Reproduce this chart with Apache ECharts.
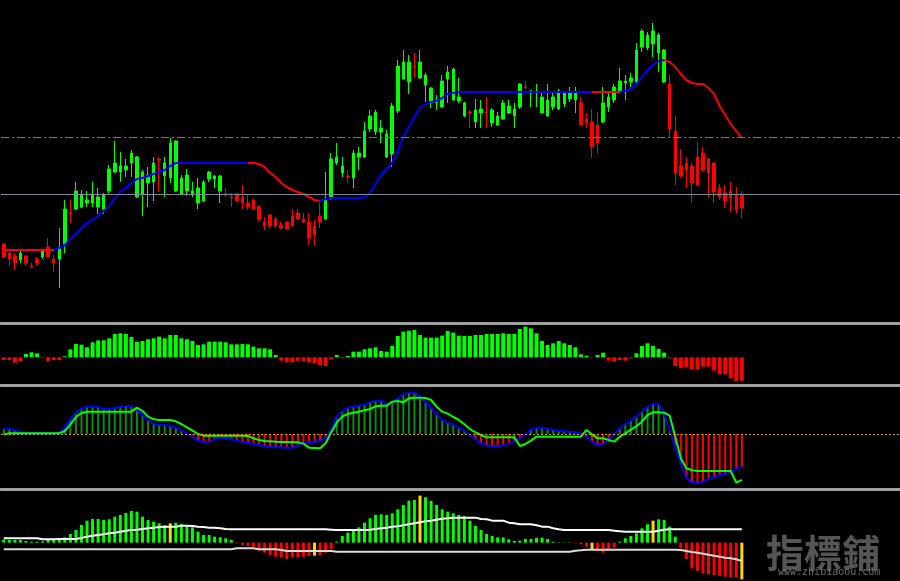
<!DOCTYPE html>
<html><head><meta charset="utf-8">
<script src="https://cdn.jsdelivr.net/npm/echarts/dist/echarts.min.js"></script>
<style>html,body{margin:0;padding:0;background:#000}#c{width:900px;height:581px}</style>
</head><body><div id="c"></div>
<script>
// ---- Main panel: candles (price points) ----
const open = [76,67,64,60,64,54,61,63,73,61, 61,76,107,111,113,117,117,113,111,129, 148,148,150,157,123,126,137,138,161,144, 142,129,126,129,125,117,119,141,141,129, 126,123,126,123,117,120,113,98,105,101, 95,98,104,107,101,98,94,104,101,123, 157,147,144,142,163,163,191,188,188,163, 166,209,241,238,254,242,235,217,217,213, 241,220,219,204,208,198,207,208,197,195, 201,207,204,213,233,227,227,207,204,213, 211,216,221,220,217,201,198,195,198,213, 220,228,237,238,238,273,272,276,267,238, 236,189,154,157,154,163,167,161,157,132, 127,129,125,126];
const close = [63,61,57,67,57,53,57,69,63,57, 73,111,106,129,126,120,126,123,126,151, 157,154,154,167,163,148,145,157,160,157, 177,179,142,145,129,132,138,148,144,144, 125,122,119,117,113,111,101,94,94,94, 92,91,94,101,98,82,85,98,120,161, 163,154,143,167,167,189,204,208,192,186, 214,254,258,258,253,258,245,232,220,239, 248,251,223,217,207,210,211,207,210,204, 217,214,211,236,232,229,229,223,220,223, 229,227,227,229,195,197,173,177,217,223, 233,239,239,242,270,289,285,289,285,270, 191,147,144,150,137,135,150,147,128,123, 119,122,110,112];
const low = [62,54,50,57,54,53,54,61,63,48, 32,67,97,110,112,113,113,106,106,127, 147,138,143,143,122,104,113,119,128,123, 137,128,125,124,123,111,118,138,132,117, 123,113,118,111,110,110,98,90,92,92, 91,90,94,100,97,75,74,92,100,120, 155,143,137,132,150,162,188,185,177,162, 153,207,240,226,242,241,218,212,210,212, 217,219,217,203,192,192,192,192,193,194, 200,206,192,211,231,213,213,207,203,210, 210,213,218,207,194,192,162,167,197,208, 217,227,220,233,237,268,270,263,248,237, 183,135,143,132,117,134,148,123,117,120, 112,108,107,101];
const high = [77,68,67,69,65,57,63,70,82,65, 92,120,120,138,130,129,138,132,127,155, 179,168,161,170,164,150,153,163,163,163, 182,180,145,151,138,142,140,149,145,145, 132,127,127,135,126,121,115,103,106,103, 98,99,111,111,107,107,100,117,148,167, 177,163,150,170,173,198,210,210,200,190, 217,260,270,265,267,270,247,233,225,245, 254,252,242,218,210,221,220,223,212,208, 220,220,217,237,239,230,236,229,236,227, 231,229,233,233,223,207,211,208,233,229, 236,252,245,247,277,291,288,297,287,271, 245,204,171,163,157,177,173,162,158,136, 135,138,133,129];
// moving average and its trend ('u' blue / 'd' red) per bar
const ma = [70,70,70,70,70,70,70,70,70,70, 72,75,81,86,92,97,100,104,109,114, 122,128,132,137,141,142,144,146,148,150, 154,157,157,157,157,157,157,157,157,157, 157,157,157,157,157,157,156,153,147,143, 137,133,130,128,126,123,120,119,121,122, 122,122,122,122,122,123,127,136,145,151, 157,169,183,193,203,212,216,218,219,222, 226,227,228,228,228,228,228,228,228,228, 228,228,228,228,228,228,228,228,228,228, 228,228,228,228,228,228,228,228,228,228, 228,228,229,231,236,243,250,255,259,260, 258,253,246,240,237,236,236,232,226,214, 205,196,189,182];
const maTrend = 'dddddddddd' + 'uuuuuuuuuuuuuuuuuuuuuuuuuuuuuuuuuuu' + 'ddddddddddddd' + 'uuuuuuuuuuuuuuuuuuuuuuuuuuuuuuuuuuuuuuuuuuuuuuuuu' + 'd' + 'u' + 'ddd' + 'uuuuuuuu' + 'dddddddddddddd';
const levelUpper = 183, levelLower = 126;

// ---- Panel 2: oscillator histogram ----
const ao = [-8,-8,-16,-11,10,15,12,-2,-11,-8, -8,3,24,40,38,30,45,51,51,57, 70,72,70,61,47,49,54,57,62,57, 67,67,57,54,49,37,39,47,47,47, 45,39,39,40,39,32,27,27,24,7, -10,-15,-15,-10,-11,-15,-18,-23,-26,-6, 7,-3,4,17,17,24,27,30,19,17, 34,64,77,80,82,67,59,59,59,65, 79,74,65,64,64,67,67,70,70,70, 72,70,70,85,92,87,72,49,37,42, 49,42,37,30,9,5,-1,7,14,-10, -13,-8,-10,-3,12,34,42,34,25,14, -3,-26,-33,-30,-36,-36,-28,-28,-40,-51, -51,-63,-71,-70];

// ---- Panel 3: MACD line (also histogram) and signal ----
const macd = [16,16,11,7,4,2,2,2,2,2, 2,19,44,64,77,82,82,81,74,76, 77,82,84,84,71,56,41,31,27,27, 24,19,10,2,-8,-20,-25,-23,-16,-11, -13,-16,-20,-24,-27,-30,-33,-37,-39,-40, -40,-41,-41,-35,-29,-25,-23,-21,-13,12, 52,69,79,82,85,88,95,100,100,87, 94,107,119,125,124,112,95,79,59,42, 34,27,19,9,-3,-16,-29,-35,-36,-36, -34,-29,-23,-13,0,13,18,19,16,13, 10,8,7,5,1,-9,-23,-35,-31,-16, -1,17,30,39,52,68,81,91,90,62, 12,-41,-88,-131,-146,-147,-143,-135,-128,-124, -121,-113,-105,-98];
const signal = [-2,2,2,2,2,2,2,2,2,2, 2,9,29,51,63,67,67,67,67,67, 67,67,67,67,79,69,52,44,42,42, 42,38,30,20,10,0,-5,-5,-5,-5, -5,-5,-5,-5,-6,-13,-18,-21,-22,-23, -24,-24,-25,-25,-29,-41,-42,-43,-28,5, 34,52,60,64,67,71,75,83,85,85, 97,99,95,107,109,109,108,102,82,67, 61,51,42,29,15,5,-3,-10,-10,-10, -10,-10,-10,-36,-30,-20,-8,-8,-8,-8, -8,-8,-8,-8,-8,12,-1,-13,-13,-18, -23,-8,2,13,23,37,57,65,65,64, 55,-8,-73,-103,-109,-111,-111,-111,-111,-111, -111,-111,-146,-138];

// ---- Panel 4: histogram with bands ----
const hist = [9,8,8,8,5,3,3,4,8,8, 10,16,26,38,53,66,71,71,68,70, 78,83,89,95,93,78,68,63,58,52, 58,60,56,48,46,33,23,23,18,16, 13,8,-2,-7,-10,-12,-24,-30,-37,-42, -44,-49,-44,-44,-42,-40,-39,-37,-30,-19, 3,20,30,36,46,60,73,83,85,83, 88,100,113,126,128,141,136,125,113,100, 93,88,83,80,66,50,38,26,20,16, 16,10,5,6,11,11,14,15,11,3, 1,1,1,-2,-5,-12,-19,-25,-30,-20, -15,3,13,20,28,43,55,66,70,68, 48,18,-17,-49,-77,-84,-92,-95,-97,-100, -102,-104,-105,-110];
const signalBars = [30,56,75,106,117,133];
const bandUpper = [13,13,13,13,13,13,13,10,10,10, 11,11,11,11,14,18,21,23,25,28, 30,33,36,38,39,41,43,45,47,48, 48,48,51,51,50,48,47,45,45,43, 41,40,40,40,40,40,40,40,40,40, 40,40,40,40,40,40,40,40,40,39, 38,38,38,38,38,38,39,41,43,45, 48,49,52,55,58,61,64,66,69,72, 73,75,75,75,75,75,71,70,66,66, 66,60,58,55,55,55,52,48,48,43, 40,38,38,38,38,38,38,38,38,38, 36,34,33,33,33,33,33,33,36,39, 40,40,40,40,40,40,40,40,40,40, 40,40,40,40];
const bandLower = [-20,-20,-20,-20,-20,-20,-20,-20,-20,-20, -20,-20,-20,-20,-20,-20,-20,-20,-20,-20, -20,-20,-20,-20,-20,-20,-20,-20,-20,-20, -20,-20,-20,-20,-20,-20,-20,-20,-20,-20, -20,-20,-17,-17,-17,-17,-20,-20,-20,-20, -22,-25,-25,-25,-25,-25,-25,-25,-25,-25, -27,-27,-27,-27,-27,-27,-27,-27,-27,-27, -27,-27,-27,-27,-27,-27,-27,-27,-27,-27, -27,-27,-27,-27,-27,-27,-27,-27,-27,-27, -27,-27,-27,-27,-27,-27,-27,-27,-27,-27, -27,-27,-27,-24,-23,-21,-21,-21,-21,-21, -21,-21,-21,-21,-21,-21,-21,-21,-21,-21, -21,-21,-22,-25,-28,-30,-33,-36,-39,-42, -45,-47,-50,-55];

const SLOTS = 162; // bar slots across the full chart width (right side empty)
const cats = []; for (let i = 0; i < SLOTS; i++) cats.push(String(i + 1));

// ---- build series data ----
const candles = open.map((o, i) => [o, close[i], low[i], high[i]]);
const maUp = ma.map(() => null), maDn = ma.map(() => null);
for (let i = 0; i < ma.length; i++) {
  const arr = maTrend[i] === 'u' ? maUp : maDn;
  arr[i] = ma[i]; if (i > 0) arr[i - 1] = ma[i - 1];
}
const aoData = ao.map(v => ({ value: v, itemStyle: { color: v >= 0 ? '#00ff00' : '#ff0000' } }));
const macdData = macd.map(v => ({ value: v, itemStyle: { color: v >= 0 ? '#0c8c0c' : '#ff0000' } }));
const histData = hist.map((v, i) => ({ value: v, itemStyle: { color: signalBars.includes(i) ? '#ffd700' : (v >= 0 ? '#00ff00' : '#ff0000') } }));

function xAx(idx, sep) {
  return {
    type: 'category', gridIndex: idx, data: cats, boundaryGap: true, position: 'top',
    axisLine: { show: sep, onZero: false, lineStyle: { color: '#a0a0a0', width: 3 } },
    axisTick: { show: false }, axisLabel: { show: false }, splitLine: { show: false }
  };
}
function yAx(idx, mn, mx) {
  return { type: 'value', gridIndex: idx, min: mn, max: mx, show: false, splitLine: { show: false } };
}

const chart = echarts.init(document.getElementById('c'), null, { renderer: 'canvas' });
chart.setOption({
  backgroundColor: '#000000',
  animation: false,
  grid: [
    { left: 1, right: 0, top: 0, height: 323 },
    { left: 1, right: 0, top: 323.3, height: 61.7 },
    { left: 1, right: 0, top: 385, height: 104.3 },
    { left: 1, right: 0, top: 489.3, height: 91.7 }
  ],
  xAxis: [xAx(0, false), xAx(1, true), xAx(2, true), xAx(3, true)],
  yAxis: [yAx(0, -3, 320), yAx(1, -83, 102), yAx(2, -166, 147), yAx(3, -115, 160)],
  series: [
    {
      type: 'candlestick', xAxisIndex: 0, yAxisIndex: 0, data: candles, barWidth: 3,
      itemStyle: { color: '#00ff00', color0: '#ff0000', borderColor: '#00ff00', borderColor0: '#ff0000', borderWidth: 1 },
      markLine: {
        silent: true, symbol: ['none', 'none'], label: { show: false },
        data: [
          { yAxis: levelUpper, lineStyle: { color: '#36a336', width: 1, type: [8, 3, 2, 3] } },
          { yAxis: levelLower, lineStyle: { color: '#7a8a9a', width: 1, type: 'solid' } }
        ]
      }
    },
    { type: 'line', xAxisIndex: 0, yAxisIndex: 0, data: maUp, symbol: 'none', z: 3, lineStyle: { color: '#0000ff', width: 2 } },
    { type: 'line', xAxisIndex: 0, yAxisIndex: 0, data: maDn, symbol: 'none', z: 3, lineStyle: { color: '#ff0000', width: 2 } },
    { type: 'bar', xAxisIndex: 1, yAxisIndex: 1, data: aoData, barWidth: 4 },
    {
      type: 'bar', xAxisIndex: 2, yAxisIndex: 2, data: macdData, barWidth: 2,
      markLine: {
        silent: true, symbol: ['none', 'none'], label: { show: false },
        data: [{ yAxis: 0 }], lineStyle: { color: '#d9a400', width: 1, type: [2, 2] }
      }
    },
    { type: 'line', xAxisIndex: 2, yAxisIndex: 2, data: macd, symbol: 'none', z: 3, lineStyle: { color: '#0000ff', width: 2 } },
    { type: 'line', xAxisIndex: 2, yAxisIndex: 2, data: signal, symbol: 'none', z: 4, lineStyle: { color: '#00ff00', width: 2 } },
    { type: 'bar', xAxisIndex: 3, yAxisIndex: 3, data: histData, barWidth: 3 },
    { type: 'line', xAxisIndex: 3, yAxisIndex: 3, data: bandUpper, symbol: 'none', z: 3, lineStyle: { color: '#ffffff', width: 2 } },
    { type: 'line', xAxisIndex: 3, yAxisIndex: 3, data: bandLower, symbol: 'none', z: 3, lineStyle: { color: '#dcdcdc', width: 2 } }
  ],
  graphic: [
    { type: 'text', left: 766, top: 534, silent: true, z: 10,
      style: { text: '指標鋪', fill: '#555555', font: 'bold 38px "Noto Sans CJK TC"' } },
    { type: 'text', left: 778, top: 567, silent: true, z: 10,
      style: { text: 'www.zhibiaoou.com', fill: '#6e6e6e', font: '10px "DejaVu Sans Mono"' } }
  ]
});
</script></body></html>
